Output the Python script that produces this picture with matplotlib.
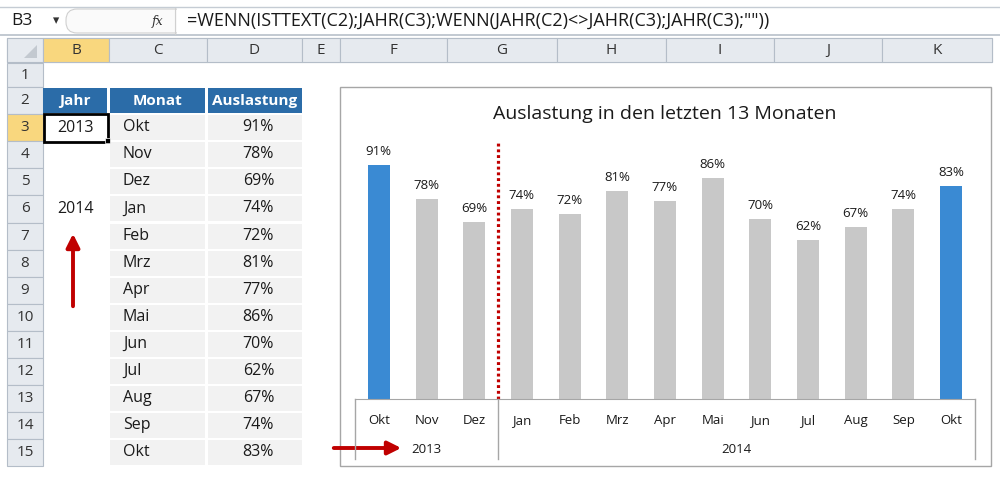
import numpy as np
import matplotlib.pyplot as plt
from matplotlib.patches import Rectangle, FancyBboxPatch, Polygon

plt.rcParams['font.family'] = ['Open Sans', 'DejaVu Sans']

# data
months = ['Okt', 'Nov', 'Dez', 'Jan', 'Feb', 'Mrz', 'Apr', 'Mai', 'Jun', 'Jul', 'Aug', 'Sep', 'Okt']
values = [91, 78, 69, 74, 72, 81, 77, 86, 70, 62, 67, 74, 83]
years = ['2013', '2014']
year_sizes = [3, 10]
col_letters = ['B', 'C', 'D', 'E', 'F', 'G', 'H', 'I', 'J', 'K']
col_edges = [43, 109, 207, 302, 340, 447, 557, 666, 774, 882, 992]
formula = '=WENN(ISTTEXT(C2);JAHR(C3);WENN(JAHR(C2)<>JAHR(C3);JAHR(C3);""))'

BLUE = '#3a8ad3'
GREY = '#c8c8c8'
RED = '#c00000'
TXT = '#1a1a1a'

fig = plt.figure(figsize=(10, 4.79), dpi=100)
bg = fig.add_axes([0, 0, 1, 1])
bg.set_xlim(0, 1000)
bg.set_ylim(479, 0)
bg.axis('off')


def row_top(k):
    if k == 1:
        return 63
    return 87 + 27.1 * (k - 2)


def row_bot(k):
    return 87 if k == 1 else row_top(k) + 27.1


# formula bar
bg.plot([0, 1000], [7, 7], color='#c5ccd4', lw=1)
bg.plot([0, 1000], [35, 35], color='#b8c0ca', lw=1.2)
bg.text(11, 21, 'B3', fontsize=12.5, va='center', color=TXT)
bg.text(56, 21, '▾', fontsize=9, va='center', ha='center', color='#333333')
bg.add_patch(FancyBboxPatch((66, 9), 120, 24, boxstyle='round,pad=0,rounding_size=11',
                            fc='#fafafa', ec='#d0d0d0', lw=0.8))
bg.plot([175, 175], [8, 34], color='#d0d0d0', lw=0.8)
bg.text(158, 21, 'fx', fontsize=9, style='italic', va='center', ha='center',
        family='DejaVu Serif', color='#333333')
bg.add_patch(Rectangle((177, 8), 823, 26, fc='white', ec='none'))
bg.text(187, 21, formula, fontsize=13, va='center', color=TXT)

# column header row
bg.add_patch(Rectangle((7, 38), 985, 24, fc='#e6eaef', ec='#b4bdc8', lw=0.8))
bg.add_patch(Rectangle((7, 38), 36, 24, fc='#e6eaef', ec='#b4bdc8', lw=0.8))
bg.add_patch(Polygon([[37, 45], [37, 58], [24, 58]], fc='#c3c9d0', ec='none'))
for i, letter in enumerate(col_letters):
    x0, x1 = col_edges[i], col_edges[i + 1]
    fc = '#f9d77e' if letter == 'B' else '#e6eaef'
    bg.add_patch(Rectangle((x0, 38), x1 - x0, 24, fc=fc, ec='#b4bdc8', lw=0.8))
    bg.text((x0 + x1) / 2, 50, letter, fontsize=11, ha='center', va='center', color='#333333')

# row headers
for k in range(1, 16):
    y0, y1 = row_top(k), row_bot(k)
    fc = '#f9d77e' if k == 3 else '#e6eaef'
    bg.add_patch(Rectangle((7, y0), 36, y1 - y0, fc=fc, ec='#b4bdc8', lw=0.8))
    bg.text(25, (y0 + y1) / 2, str(k), fontsize=11, ha='center', va='center', color='#333333')

# table header
for (x0, x1), label in zip([(43, 107), (110, 205), (208, 302)], ['Jahr', 'Monat', 'Auslastung']):
    bg.add_patch(Rectangle((x0, row_top(2) + 1), x1 - x0, 25, fc='#2b6ca8', ec='none'))
    bg.text((x0 + x1) / 2, row_top(2) + 13.5, label, fontsize=11, fontweight='bold',
            ha='center', va='center', color='white')

# table body
for i, (m, v) in enumerate(zip(months, values)):
    k = 3 + i
    y0 = row_top(k) + 1
    bg.add_patch(Rectangle((110, y0), 95, 25, fc='#f2f2f2', ec='none'))
    bg.add_patch(Rectangle((208, y0), 94, 25, fc='#f2f2f2', ec='none'))
    bg.text(123, y0 + 12, m, fontsize=11.5, va='center', color=TXT)
    bg.text(274, y0 + 12, f'{v}%', fontsize=11.5, va='center', ha='right', color=TXT)

# year column
bg.text(76, row_top(3) + 13.5, years[0], fontsize=11.5, ha='center', va='center', color=TXT)
bg.text(76, row_top(6) + 13.5, years[1], fontsize=11.5, ha='center', va='center', color=TXT)
bg.add_patch(Rectangle((44, row_top(3)), 64, 27.5, fc='none', ec='black', lw=2))
bg.add_patch(Rectangle((105, row_bot(3) - 3), 5, 5, fc='black', ec='white', lw=0.5))
bg.annotate('', xy=(73, 231), xytext=(73, 309),
            arrowprops=dict(arrowstyle='-|>,head_length=0.8,head_width=0.4', color=RED, lw=2.8))

# chart frame
bg.add_patch(Rectangle((340, 87), 651, 379, fc='white', ec='#a6a6a6', lw=1))
fig.text(665 / 1000, 1 - 114 / 479, 'Auslastung in den letzten 13 Monaten', fontsize=14,
         ha='center', va='center', color=TXT)

ax = fig.add_axes([355 / 1000, 1 - 399 / 479, 620 / 1000, 257 / 479])
ax.patch.set_alpha(0)
x = np.arange(len(months))
colors = [BLUE if i in (0, len(months) - 1) else GREY for i in x]
ax.bar(x, np.array(values) / 100, width=0.46, color=colors)
for xi, v in zip(x, values):
    ax.annotate(f'{v}%', (xi, v / 100), xytext=(0, 5), textcoords='offset points',
                ha='center', va='bottom', fontsize=9.5, color=TXT)
ax.axvline(2.5, color=RED, lw=2.3, ls=(0, (0.9, 0.9)), dash_capstyle='butt')
ax.set_xlim(-0.5, 12.5)
ax.set_ylim(0, 1)
ax.set_xticks(x)
ax.set_xticklabels(months, fontsize=9.5, color=TXT)
ax.tick_params(axis='x', length=0, pad=11)
ax.set_yticks([])
for s in ['top', 'left', 'right']:
    ax.spines[s].set_visible(False)
ax.spines['bottom'].set_color('#a6a6a6')

# category groups
tr = ax.get_xaxis_transform()
edges = np.concatenate([[0], np.cumsum(year_sizes)]) - 0.5
for e in edges:
    ax.plot([e, e], [0, -0.233], transform=tr, color='#a6a6a6', lw=1, clip_on=False)
for yr, a, b in zip(years, edges[:-1], edges[1:]):
    ax.text((a + b) / 2, -0.198, yr, transform=tr, ha='center', va='center', fontsize=9.5, color=TXT)

bg.annotate('', xy=(404, 448), xytext=(331, 448),
            arrowprops=dict(arrowstyle='-|>,head_length=0.8,head_width=0.4', color=RED, lw=2.8))

fig.savefig('out.png', dpi=100)
